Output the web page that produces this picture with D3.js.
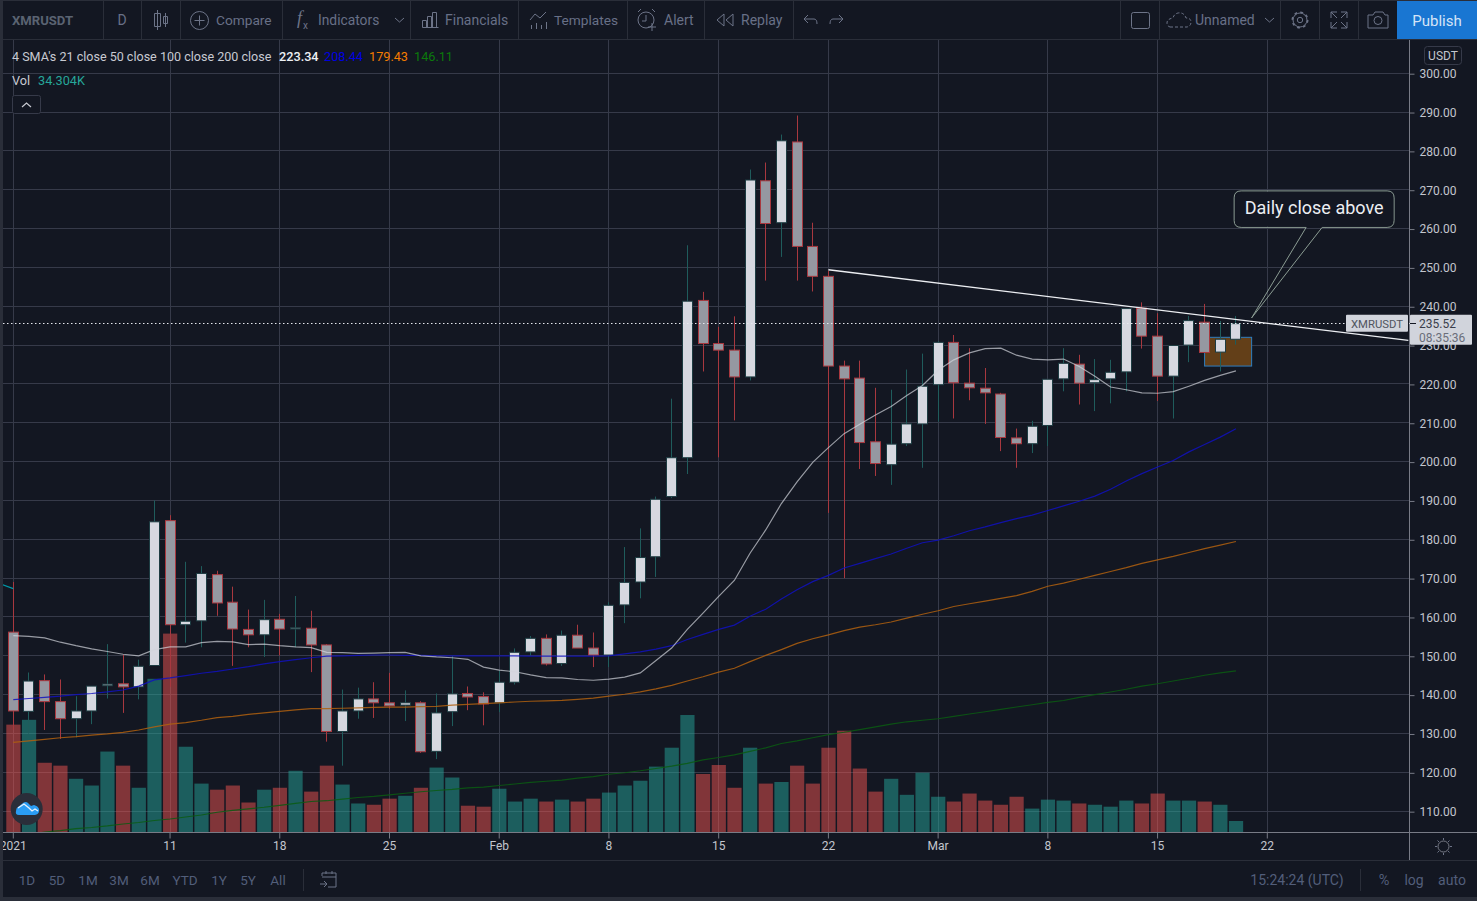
<!DOCTYPE html>
<html>
<head>
<meta charset="utf-8">
<title>XMRUSDT</title>
<script src="https://cdn.jsdelivr.net/npm/d3@7"></script>
<style>
html, body { margin: 0; padding: 0; background: #131722; overflow: hidden; }
svg { display: block; font-family: Roboto, sans-serif; }
.axis path { display: none; }
.axis line { stroke: #787b86; }
.axis text { fill: #c3c6ce; font-family: Roboto, sans-serif; font-size: 12px; }
</style>
</head>
<body>
<script>
// daily candles, 2021-01-01 onwards
var opens = [156.1,135.7,143.6,138.2,133.8,135.8,142.3,142.8,142,147.5,184.8,158,159,170.9,163.8,156.8,155.4,159.4,156.9,157.1,152.8,
130.5,135.8,138.9,137.9,137.3,137.9,125.4,135.6,140.3,139.5,137.9,143.2,151,154.5,148,155.3,152,150.2,163.1,169,175.5,
191,201,241.5,230.4,228.7,221.8,272.3,261.5,282.3,255.4,247.7,224.6,221.5,205.1,199.2,204.6,209.7,219.8,230.7,
220.2,218.9,217.4,206.1,204.6,209.3,221.3,225.1,220.3,221.3,223.1,239.5,232.3,222,230,235.9,228.2,231.5];
var closes = [135.8,143.5,138.2,133.8,135.8,142.2,142.7,142,147.3,184.5,158,158.9,171.2,163.6,156.9,155.4,159.3,156.9,157.2,152.8,130.5,
135.8,138.9,137.9,137.1,137.9,125.3,135.3,140.2,139.4,137.6,143.2,150.9,154.5,147.9,155.3,152,150.2,163,168.9,175.3,190.3,
201,241.3,230.4,228.7,221.8,272.5,261.3,282.6,255.4,247.7,224.6,221.3,204.9,199.5,204.5,209.7,219.4,230.7,220.3,
219,217.7,206.2,204.6,209.1,221.2,225.3,220.2,221.1,223,239.4,232.3,222,229.9,236.3,228.1,231.5,235.52];
var highs = [169,145.7,145.2,143.9,139.6,142.2,153,150.3,149,190,186.2,174.2,173.1,171.9,167.8,161.9,164.4,160.8,165.4,161.6,153,
141.3,141.8,143.2,145.6,141.1,138.3,140.3,150,142.1,140.6,146.2,151.9,155.1,155.5,156.5,158,156,163.8,178,182.8,191,
216.2,255.7,243.7,234.7,237.4,275.2,277,284.2,289.1,261.5,249.1,226,226,219,218.5,223.7,227.8,231,232.6,
229.2,224.1,217.7,208.5,210.5,221.2,229.2,227.5,226.4,226.2,239.5,241,238.2,229.9,237.5,240.6,236.2,237.5];
var lows = [131,130,130.9,128.6,129,132.4,139,135.3,138.8,147.5,142,153.4,152.2,160.3,147.4,152.2,149.7,150.1,152.2,145.8,127.9,
121.7,133.8,134,136.4,133.2,125,123.4,131.9,136,132.1,135.5,142.6,150,147.5,147.4,152,147.1,147.1,158.4,164.8,170.3,
190.6,196.8,223.2,201.1,210.6,220.9,246.6,252.7,246.6,243.8,186.8,170,198.1,196.3,194,204,198.4,210.3,211.1,
215.8,209.7,202.7,198.4,202.2,204,218.1,214.7,213,215,218.1,229.1,215.6,211.1,225.6,228,223.2,230.1];
// volume in thousands
var volumes = [335,350,216,207,166,145,251,207,138,478,619,266,151,132,145,92,132,138,191,126,207,
148,89,85,104,113,138,201,170,82,79,135,95,104,95,101,95,104,123,145,160,204,263,
365,181,209,138,263,151,156,207,151,263,316,198,126,166,116,185,110,95,120,98,85,110,73,101,98,89,85,79,98,89,120,98,98,95,85,34.304];

var sma21 = [155.2,155,154.6,153.5,152.6,151.8,151.1,150.4,150,151.6,152.3,152.3,153.4,153.7,153.6,152.9,153,152.6,152.3,152.1,150.9,
150.8,150.6,150.7,150.8,150.9,150,149.7,149.5,149.1,147.1,146.3,145.9,145.1,144.4,144.3,143.9,143.7,144,144.5,145.6,148.8,
152,156.8,161,165.3,169.4,176.4,182.4,189.2,194.8,199.8,203.6,207.2,209.6,212,214.2,217,219.6,223.5,226.2,
228,229.1,229.2,227.4,226.4,226.2,226.4,224.5,222,219.2,218.5,217.7,217.6,218,219.4,220.9,222.2,223.34];
var sma50 = [138.7,139,139.3,139.6,140,140.3,140.7,141.2,142.2,143.8,144.3,144.9,145.5,146,146.6,147.2,147.9,148.5,149,149.5,149.9,
150,150.1,150.2,150.2,150.1,150.1,150,150,150,150,150,150,149.9,149.9,149.9,149.9,149.9,150,150.5,151,151.7,
152.6,154.2,155.5,156.8,157.9,160.2,162,164.6,167,169.1,170.7,172.6,173.8,175,176.2,177.7,179.1,179.8,180.9,
182.2,183.2,184.3,185.3,186.2,187.4,188.6,189.8,191.1,192.9,195,196.9,198.6,200.3,202.5,204.4,206.3,208.44];
var sma100 = [127.7,128.1,128.5,128.9,129.2,129.6,129.9,130.3,130.9,131.7,132.4,132.8,133.4,134.1,134.4,134.9,135.3,135.7,136.1,136.4,136.4,
136.5,136.6,136.7,136.8,136.8,136.9,137,137.3,137.5,137.7,137.9,138.1,138.3,138.4,138.5,138.8,139.1,139.6,140.1,140.7,141.5,
142.4,143.5,144.6,145.8,146.8,148.5,150.1,151.6,153.2,154.4,155.4,156.5,157.4,158,158.7,159.7,160.7,161.6,162.7,
163.4,164.1,164.8,165.5,166.6,167.9,168.7,169.7,170.7,171.7,172.7,173.8,174.7,175.6,176.6,177.6,178.5,179.43];
var sma200 = [103.6,104.1,104.6,105,105.5,105.8,106.2,106.7,107.1,107.6,108,108.5,109,109.7,110.2,110.6,111,111.5,112,112.5,112.7,
113.1,113.5,113.8,114.2,114.6,115,115.3,115.6,116,116.2,116.6,117,117.4,117.7,118,118.5,118.9,119.5,119.9,120.4,121,
121.6,122.3,123.2,123.8,124.5,125.4,126.3,127.4,128.1,128.9,129.7,130.3,131,131.7,132.4,133,133.4,133.8,134.4,
135,135.6,136.2,136.8,137.4,138,138.5,139.3,140,140.7,141.4,142.2,142.8,143.5,144.2,145,145.6,146.11];
var leftStub = [168.8, 167.3]; // piece of a line left of the window, Dec 31 to Jan 1

var priceTicks = d3.range(110, 301, 10);
var timeTicks = ["2021-01-01","2021-01-11","2021-01-18","2021-01-25","2021-02-01","2021-02-08","2021-02-15","2021-02-22","2021-03-01","2021-03-08","2021-03-15","2021-03-22"];
var timeLabels = ["2021","11","18","25","Feb","8","15","22","Mar","8","15","22"];
var ranges = ["1D","5D","1M","3M","6M","YTD","1Y","5Y","All"];
var rangeX = [27,57,88,119,150,185,219,248,278];

var W = 1477, H = 901,
    left = 3, right = 1409, top_ = 40, bottom = 832;
var bg = "#131722", gridCol = "#363a49", sepCol = "#2a2e39", toolText = "#687087";

var start = new Date(Date.UTC(2021, 0, 1));
function day(i) { return d3.utcDay.offset(start, i); }

var x = d3.scaleUtc().domain([start, day(80)]).range([13.3, 1267.3]);
var y = d3.scaleLinear().domain([110, 300]).range([811.16, 73.2]);
var v = d3.scaleLinear().domain([0, 624]).range([832, 632]);

var bars = opens.map(function(o, i) {
  return {date: day(i), open: o, close: closes[i], high: highs[i], low: lows[i], vol: volumes[i], up: closes[i] >= o};
});
var tickDates = timeTicks.map(function(s) { return new Date(s + "T00:00:00Z"); });

var svg = d3.select("body").append("svg").attr("width", W).attr("height", H);

svg.append("rect").attr("width", W).attr("height", H).attr("fill", bg);

svg.append("defs").append("clipPath").attr("id", "pane").append("rect")
  .attr("x", left).attr("y", top_).attr("width", right - left).attr("height", bottom - top_);

var pane = svg.append("g").attr("clip-path", "url(#pane)");

// grid
pane.selectAll(".gy").data(priceTicks).enter().append("line")
  .attr("x1", left).attr("x2", right)
  .attr("y1", function(d) { return Math.floor(y(d)) + 0.5; })
  .attr("y2", function(d) { return Math.floor(y(d)) + 0.5; })
  .attr("stroke", gridCol);
pane.selectAll(".gx").data(tickDates).enter().append("line")
  .attr("x1", function(d) { return Math.floor(x(d)) + 0.5; })
  .attr("x2", function(d) { return Math.floor(x(d)) + 0.5; })
  .attr("y1", top_).attr("y2", bottom)
  .attr("stroke", gridCol);

// volume
pane.selectAll(".vol").data(bars).enter().append("rect")
  .attr("x", function(d) { return x(d.date) - 7; })
  .attr("width", 14.2)
  .attr("y", function(d) { return v(d.vol); })
  .attr("height", function(d) { return bottom - v(d.vol); })
  .attr("fill", function(d) { return d.up ? "#26a69a" : "#ef5350"; })
  .attr("opacity", 0.5);

// brown box behind the last candles
pane.append("rect")
  .attr("x", x(day(76))).attr("width", x(day(79)) - x(day(76)))
  .attr("y", y(232)).attr("height", y(224.6) - y(232))
  .attr("fill", "#633f18").attr("stroke", "#2f7ec0").attr("stroke-width", 1);

// wicks and bodies
pane.selectAll(".wick").data(bars).enter().append("line")
  .attr("x1", function(d) { return Math.floor(x(d.date)) + 0.5; })
  .attr("x2", function(d) { return Math.floor(x(d.date)) + 0.5; })
  .attr("y1", function(d) { return y(d.high); })
  .attr("y2", function(d) { return y(d.low); })
  .attr("stroke", function(d) { return d.up ? "#1f5c5c" : "#a8383f"; });
pane.selectAll(".body").data(bars).enter().append("rect")
  .attr("x", function(d) { return Math.floor(x(d.date)) - 4.5; })
  .attr("width", 10)
  .attr("y", function(d) { return y(Math.max(d.open, d.close)); })
  .attr("height", function(d) { return Math.max(1, Math.abs(y(d.open) - y(d.close))); })
  .attr("fill", function(d) { return d.up ? "#d6d8e0" : "#9598a1"; })
  .attr("stroke", function(d) { return d.up ? "#1d3c42" : "#a8383f"; })
  .attr("stroke-width", 1);

// moving averages
var line = d3.line().x(function(d, i) { return x(day(i)); }).y(function(d) { return y(d); });
var smaStyles = [
  {values: sma200, color: "#0b5c12", width: 1.1, alpha: 0.85},
  {values: sma100, color: "#b0600f", width: 1.2, alpha: 0.85},
  {values: sma50, color: "#1010c0", width: 1.2, alpha: 0.85},
  {values: sma21, color: "#d1d4dc", width: 1.2, alpha: 0.7}
];
smaStyles.forEach(function(s) {
  pane.append("path").attr("d", line(s.values)).attr("fill", "none")
    .attr("stroke", s.color).attr("stroke-width", s.width).attr("opacity", s.alpha);
});
pane.append("path")
  .attr("d", d3.line().x(function(d, i) { return x(day(i - 1)); }).y(function(d) { return y(d); })(leftStub))
  .attr("fill", "none").attr("stroke", "#0097a7").attr("stroke-width", 1.2);

// last price line
pane.append("line").attr("x1", left).attr("x2", 1346)
  .attr("y1", Math.floor(y(235.52)) + 0.5).attr("y2", Math.floor(y(235.52)) + 0.5)
  .attr("stroke", "#e6e8ee").attr("stroke-dasharray", "1.5,2.5");

// trend line, Feb 22 to past the axis
pane.append("line")
  .attr("x1", x(day(52))).attr("y1", y(249.4))
  .attr("x2", x(day(89.1))).attr("y2", y(231.2))
  .attr("stroke", "#eceef2").attr("stroke-width", 1.3);

// callout, hung on the trend line
var tipX = x(day(79)), tipY = y(237);
var cx0 = tipX - 17.5, cx1 = tipX + 142.5, cy0 = tipY - 127, cy1 = tipY - 90.5, r = 7;
pane.append("path")
  .attr("d", "M" + (cx0 + r) + "," + cy0 + "H" + (cx1 - r) + "Q" + cx1 + "," + cy0 + " " + cx1 + "," + (cy0 + r)
    + "V" + (cy1 - r) + "Q" + cx1 + "," + cy1 + " " + (cx1 - r) + "," + cy1
    + "H" + (tipX + 70.5) + "L" + tipX + "," + tipY + "L" + (tipX + 54.5) + "," + cy1
    + "H" + (cx0 + r) + "Q" + cx0 + "," + cy1 + " " + cx0 + "," + (cy1 - r)
    + "V" + (cy0 + r) + "Q" + cx0 + "," + cy0 + " " + (cx0 + r) + "," + cy0 + "Z")
  .attr("fill", "none").attr("stroke", "#8b9c93").attr("stroke-width", 1);
pane.append("rect").attr("x", cx0 + 1).attr("y", cy0 + 1).attr("width", cx1 - cx0 - 2).attr("height", cy1 - cy0 - 2).attr("rx", r).attr("fill", bg);
pane.append("text").attr("x", (cx0 + cx1) / 2).attr("y", cy0 + 23).attr("text-anchor", "middle")
  .attr("fill", "#eceef2").attr("font-size", 18).text("Daily close above");

// axes
var yAxis = d3.axisRight(y).tickValues(priceTicks).tickFormat(d3.format(".2f")).tickSize(5).tickPadding(5);
svg.append("g").attr("class", "axis").attr("transform", "translate(" + (right + 0.5) + ",0.5)").call(yAxis);
var xAxis = d3.axisBottom(x).tickValues(tickDates).tickFormat(function(d, i) { return timeLabels[i]; }).tickSize(6).tickPadding(3);
svg.append("g").attr("class", "axis").attr("transform", "translate(-0.5," + (bottom + 0.5) + ")").call(xAxis);

svg.append("line").attr("x1", left).attr("x2", W).attr("y1", bottom + 0.5).attr("y2", bottom + 0.5).attr("stroke", "#787b86");
svg.append("line").attr("x1", right + 0.5).attr("x2", right + 0.5).attr("y1", top_).attr("y2", 860).attr("stroke", "#787b86");

// frame and toolbars
svg.append("rect").attr("x", 0).attr("y", 0).attr("width", 3).attr("height", H).attr("fill", sepCol);
svg.append("rect").attr("x", 0).attr("y", 0).attr("width", W).attr("height", 1).attr("fill", sepCol);
svg.append("rect").attr("x", 0).attr("y", 897).attr("width", W).attr("height", 4).attr("fill", sepCol);
svg.append("line").attr("x1", 0).attr("x2", W).attr("y1", 39.5).attr("y2", 39.5).attr("stroke", sepCol);
svg.append("line").attr("x1", 0).attr("x2", W).attr("y1", 860.5).attr("y2", 860.5).attr("stroke", sepCol);

[103,141,180,282,410,518,627,704,793,1120,1159,1280,1319,1358].forEach(function(sx) {
  svg.append("line").attr("x1", sx + 0.5).attr("x2", sx + 0.5).attr("y1", 1).attr("y2", 39).attr("stroke", sepCol);
});
svg.append("line").attr("x1", 303.5).attr("x2", 303.5).attr("y1", 869).attr("y2", 891).attr("stroke", sepCol);
svg.append("line").attr("x1", 1360.5).attr("x2", 1360.5).attr("y1", 869).attr("y2", 891).attr("stroke", sepCol);

function txt(px, py, s, col, size, anchor, weight) {
  return svg.append("text").attr("x", px).attr("y", py).attr("fill", col).attr("font-size", size)
    .attr("text-anchor", anchor || "start").attr("font-weight", weight || 400).text(s);
}
function ico(d, w) {
  return svg.append("path").attr("d", d).attr("fill", "none").attr("stroke", "#6d7488").attr("stroke-width", w || 1);
}

txt(12, 25, "XMRUSDT", "#5a6372", 13.1, "start", 700);
txt(122, 25, "D", "#687087", 14, "middle");
txt(216, 25, "Compare", toolText, 13.7);
txt(318, 25, "Indicators", toolText, 13.8);
txt(445, 25, "Financials", toolText, 14);
txt(554, 25, "Templates", toolText, 13.7);
txt(664, 25, "Alert", toolText, 14);
txt(741, 25, "Replay", toolText, 14);
txt(1195, 25, "Unnamed", toolText, 14);

// toolbar icons
ico("M157.5,10V30M154.5,13.5h6v13h-6zM165.5,13V27M163.5,16.5h4v7h-4z");
svg.append("circle").attr("cx", 199.5).attr("cy", 20.5).attr("r", 9).attr("fill", "none").attr("stroke", "#6d7488");
ico("M199.5,15.5v10M194.5,20.5h10");
svg.append("text").attr("x", 297).attr("y", 24).attr("fill", "#6d7488").attr("font-size", 18).attr("font-style", "italic").attr("font-family", "Liberation Serif").text("f");
svg.append("text").attr("x", 303).attr("y", 29).attr("fill", "#6d7488").attr("font-size", 10).text("x");
ico("M395,18l4.5,4l4.5,-4M1265,18l4.5,4l4.5,-4");
ico("M422.5,27.5h16M422.5,27.5v-7h4v7M427.5,27.5v-11h4v11M432.5,27.5v-15h4v15");
ico("M530,20l5,-6l5,4l6,-6M531.5,29v-4M536.5,29v-6M541.5,29v-4M546.5,29v-7");
svg.append("circle").attr("cx", 646).attr("cy", 20).attr("r", 8).attr("fill", "none").attr("stroke", "#6d7488");
ico("M646,15v6h-4M638,12l3,-3M652,9l3,3M648,27h8M652,23v8");
ico("M724,14l-7,6l7,6zM733,14l-7,6l7,6z");
ico("M808,15l-4,4l4,4M804,19h10q3,0 3,5M839,15l4,4l-4,4M843,19h-10q-3,0 -3,5");
svg.append("rect").attr("x", 1131.5).attr("y", 12.5).attr("width", 18).attr("height", 16).attr("rx", 2).attr("fill", "none").attr("stroke", "#6d7488");
ico("M1170,27h17q4,-1 4,-5q0,-4 -5,-4q-2,-6 -8,-5q-4,1 -5,5q-6,1 -6,5q0,3 3,4").attr("stroke-dasharray", "3,2");
svg.append("circle").attr("cx", 1300).attr("cy", 20).attr("r", 7).attr("fill", "none").attr("stroke", "#6d7488").attr("stroke-width", 3).attr("stroke-dasharray", "2.6,2.9");
svg.append("circle").attr("cx", 1300).attr("cy", 20).attr("r", 7).attr("fill", bg).attr("stroke", "#6d7488");
svg.append("circle").attr("cx", 1300).attr("cy", 20).attr("r", 2.7).attr("fill", "none").attr("stroke", "#6d7488");
ico("M1331,18v-6h6M1331,12l6,6M1347,18v-6h-6M1347,12l-6,6M1331,22v6h6M1331,28l6,-6M1347,22v6h-6M1347,28l-6,-6");
ico("M1368,15h5l2,-3h8l2,3h3v13h-20z");
svg.append("circle").attr("cx", 1378).attr("cy", 20.5).attr("r", 4).attr("fill", "none").attr("stroke", "#6d7488");

svg.append("rect").attr("x", 1397).attr("y", 1).attr("width", 80).attr("height", 38).attr("fill", "#1976d2");
txt(1437, 25.5, "Publish", "#d5e4f7", 15, "middle");

// legend
var legendY = 61;
txt(12, legendY, "4 SMA's 21 close 50 close 100 close 200 close", "#c8cad2", 12.55);
txt(279, legendY, "223.34", "#eef0f4", 12.7, "start", 500);
txt(324, legendY, "208.44", "#0000e0", 12.7);
txt(369, legendY, "179.43", "#f57c00", 12.7);
txt(414, legendY, "146.11", "#0b7a0b", 12.7);
txt(12, 85, "Vol", "#c8cad2", 12.7);
txt(38, 85, "34.304K", "#26a69a", 12.7);

svg.append("rect").attr("x", 12.5).attr("y", 95.5).attr("width", 28).attr("height", 18).attr("rx", 2).attr("fill", bg).attr("stroke", "#363a49");
svg.append("path").attr("d", "M22,107l4.5,-4l4.5,4").attr("fill", "none").attr("stroke", "#c8cad2").attr("stroke-width", 1.2);

svg.append("rect").attr("x", 1424.5).attr("y", 46.5).attr("width", 37).attr("height", 18).attr("rx", 3).attr("fill", bg).attr("stroke", "#363a49");
txt(1443, 59.5, "USDT", "#c3c6ce", 12, "middle");

// last price tags
var lastY = y(235.52);
svg.append("rect").attr("x", 1346).attr("y", lastY - 9).attr("width", 62).attr("height", 17).attr("rx", 1).attr("fill", "#d1d4dc");
txt(1377, lastY + 4.5, "XMRUSDT", "#50545f", 11.3, "middle");
svg.append("line").attr("x1", right).attr("x2", right + 6).attr("y1", Math.floor(lastY) + 0.5).attr("y2", Math.floor(lastY) + 0.5).attr("stroke", "#d1d4dc");
svg.append("rect").attr("x", 1410).attr("y", lastY - 9).attr("width", 62).attr("height", 30).attr("rx", 1).attr("fill", "#d1d4dc");
svg.append("line").attr("x1", 1410).attr("x2", 1416).attr("y1", Math.floor(lastY) + 0.5).attr("y2", Math.floor(lastY) + 0.5).attr("stroke", "#131722");
txt(1419, lastY + 4.5, "235.52", "#3a3e4a", 12);
txt(1419, lastY + 18.5, "08:35:36", "#6a6e7a", 12);

// bottom bar
ranges.forEach(function(s, i) { txt(rangeX[i], 885, s, "#525e7a", 13.5, "middle"); });
ico("M322,876v-3h14v14h-8M322,877h14M326,871v3M332,871v3M320,884h7M324,881l3,3l-3,3");
txt(1297, 885, "15:24:24 (UTC)", "#525e7a", 14, "middle");
txt(1384, 885, "%", "#525e7a", 14.5, "middle");
txt(1414, 885, "log", "#525e7a", 14, "middle");
txt(1452, 885, "auto", "#525e7a", 14, "middle");
svg.append("circle").attr("cx", 1443.5).attr("cy", 846.5).attr("r", 5.5).attr("fill", "none").attr("stroke", "#787b86");
ico("M1443.5,838v2M1443.5,853v2M1435,846.5h2M1450,846.5h2M1437.5,840.5l1.5,1.5M1448,851l1.5,1.5M1449.5,840.5l-1.5,1.5M1439,851l-1.5,1.5");

// logo
svg.append("circle").attr("cx", 26.7).attr("cy", 809).attr("r", 16).attr("fill", "#2a2e39");
svg.append("path").attr("d", "M16,811q0,-3 2,-4l5,-4q3,-2 5,0l3,3l3,-1q4,1 5,4q1,5 -4,6h-16q-4,0 -3,-4z").attr("fill", "#2a9df4");
svg.append("path").attr("d", "M18,808l6,-4l5,4l3,3l3,-2l3,2").attr("fill", "none").attr("stroke", "#e6f2fd").attr("stroke-width", 1.3);
</script>
</body>
</html>
